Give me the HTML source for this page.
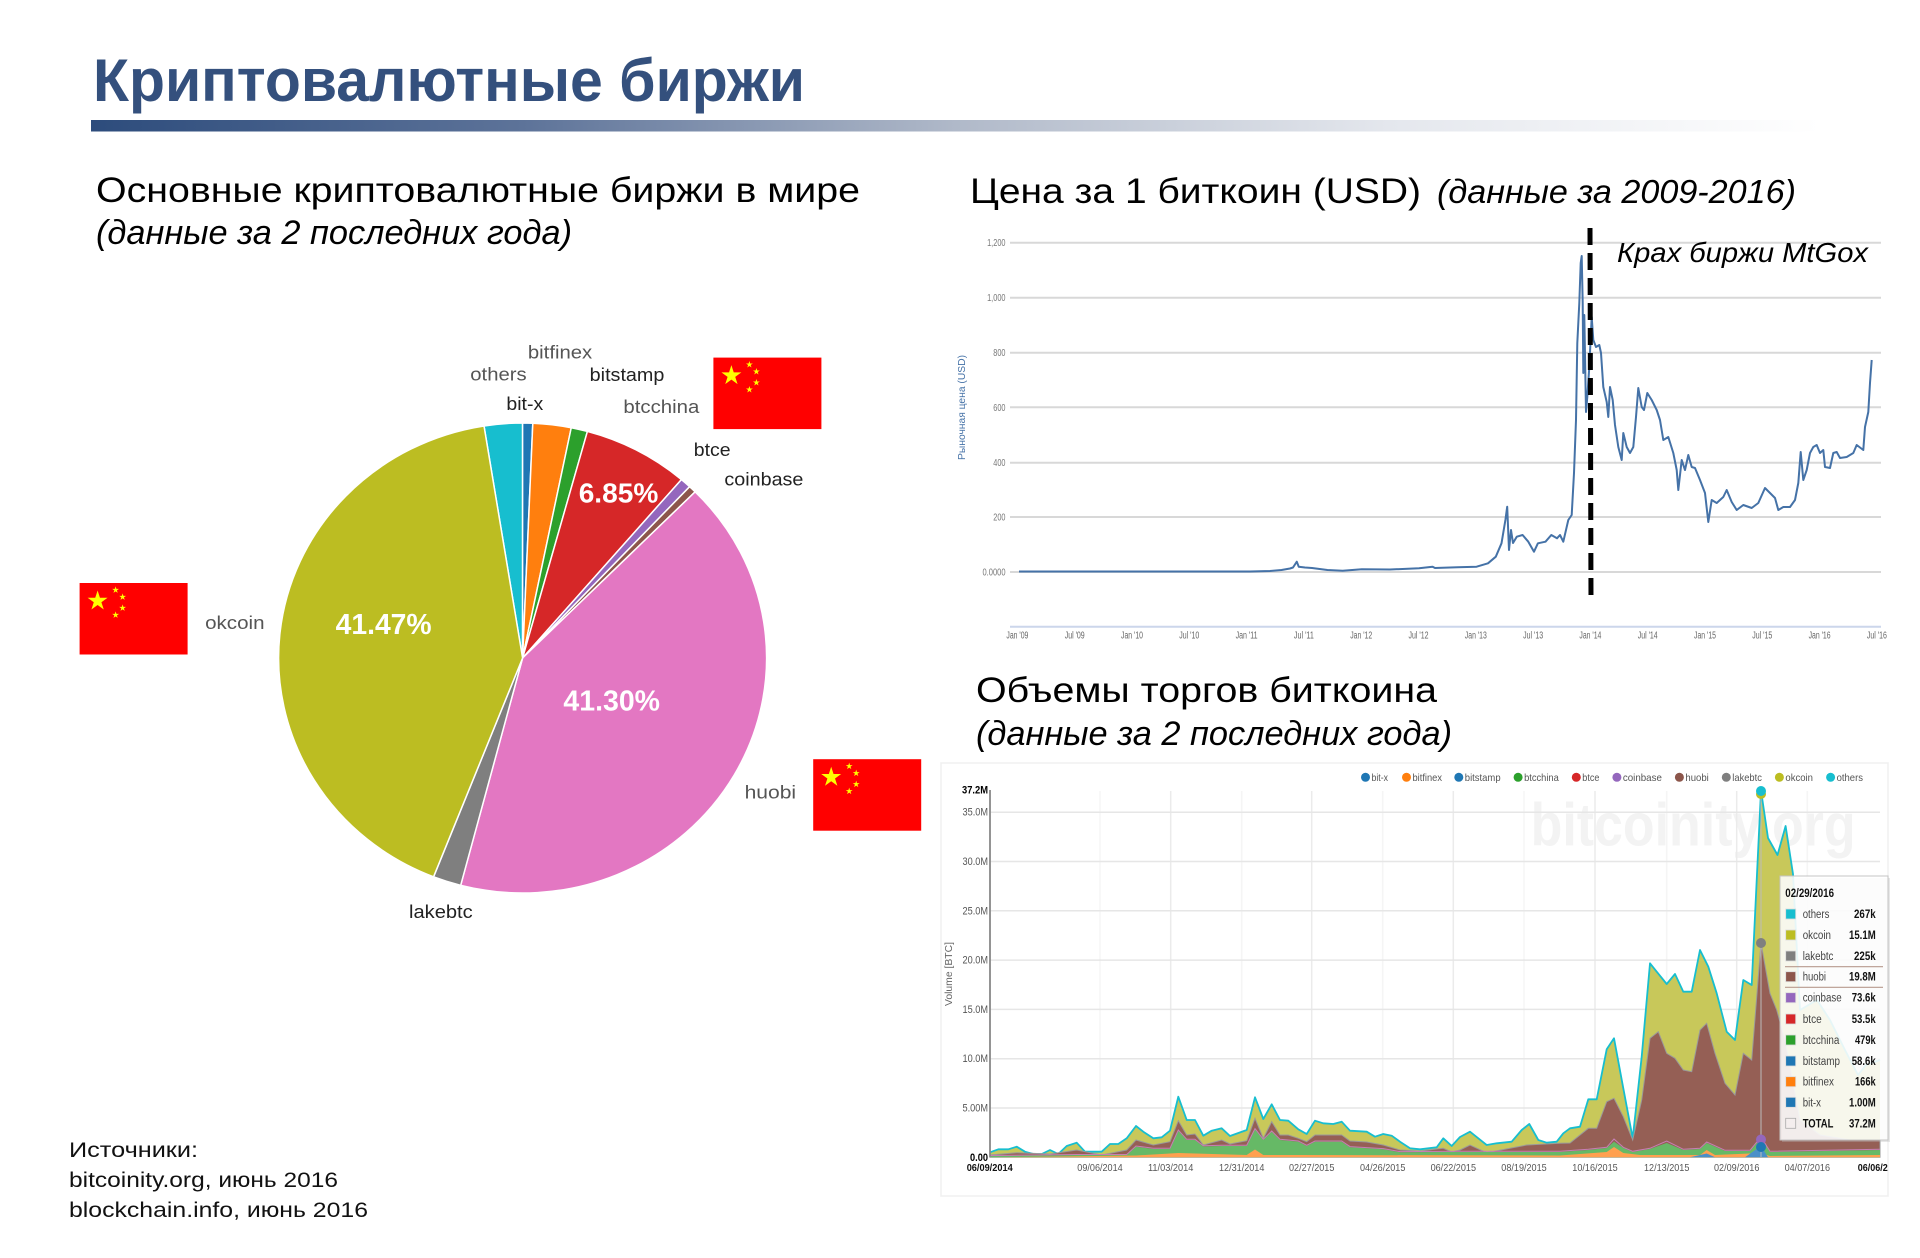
<!DOCTYPE html>
<html><head><meta charset="utf-8"><style>
html,body{margin:0;padding:0;background:#fff;}
svg{display:block;}
text{font-family:"Liberation Sans","DejaVu Sans",sans-serif;}
</style></head><body>
<svg width="1920" height="1258" viewBox="0 0 1920 1258" xmlns="http://www.w3.org/2000/svg">
<defs>
<linearGradient id="bar" x1="91" y1="0" x2="1820" y2="0" gradientUnits="userSpaceOnUse">
<stop offset="0" stop-color="#2d4c7c"/><stop offset="0.25" stop-color="#5d7399"/><stop offset="0.5" stop-color="#b0b9c9"/><stop offset="0.75" stop-color="#e4e7ed"/><stop offset="1" stop-color="#ffffff"/>
</linearGradient>
<polygon id="st" points="0,-1 0.2245,-0.309 0.951,-0.309 0.363,0.118 0.588,0.809 0,0.382 -0.588,0.809 -0.363,0.118 -0.951,-0.309 -0.2245,-0.309" fill="#ffff00"/>
<g id="flag">
<rect x="0" y="0" width="108" height="71.5" fill="#ff0000"/>
<use href="#st" transform="translate(18,18) scale(10.5)"/>
<use href="#st" transform="translate(36,7) scale(3.6)"/>
<use href="#st" transform="translate(43,14) scale(3.6)"/>
<use href="#st" transform="translate(43,25) scale(3.6)"/>
<use href="#st" transform="translate(36,32) scale(3.6)"/>
</g>
</defs>
<rect width="1920" height="1258" fill="#fff"/>

<!-- Title -->
<text x="93" y="101" font-size="60" font-weight="bold" fill="#34507d" textLength="712" lengthAdjust="spacingAndGlyphs">Криптовалютные биржи</text>
<rect x="91" y="120" width="1740" height="11.5" fill="url(#bar)"/>

<!-- Left subtitle -->
<text x="96" y="202" font-size="35" fill="#000" textLength="764" lengthAdjust="spacingAndGlyphs">Основные криптовалютные биржи в мире</text>
<text x="96" y="244" font-size="34" font-style="italic" fill="#000" textLength="476" lengthAdjust="spacingAndGlyphs">(данные за 2 последних года)</text>

<!-- Pie -->
<g stroke="#fff" stroke-width="1.5" stroke-linejoin="round">
<path d="M522.6,658 L484.01,425.96 A244,235 0 0 1 522.6,423 Z" fill="#17becf"/>
<path d="M522.6,658 L522.6,423 A244,235 0 0 1 532.8,423.2 Z" fill="#1f77b4"/>
<path d="M522.6,658 L532.8,423.2 A244,235 0 0 1 571.25,427.72 Z" fill="#ff7f0e"/>
<path d="M522.6,658 L571.25,427.72 A244,235 0 0 1 587.4,431.44 Z" fill="#2ca02c"/>
<path d="M522.6,658 L587.4,431.44 A244,235 0 0 1 681.39,479.57 Z" fill="#d62728"/>
<path d="M522.6,658 L681.39,479.57 A244,235 0 0 1 689.63,486.69 Z" fill="#9467bd"/>
<path d="M522.6,658 L689.63,486.69 A244,235 0 0 1 695.13,491.83 Z" fill="#8c564b"/>
<path d="M522.6,658 L695.13,491.83 A244,235 0 0 1 460.68,885.31 Z" fill="#e377c2"/>
<path d="M522.6,658 L460.68,885.31 A244,235 0 0 1 433.57,876.8 Z" fill="#7f7f7f"/>
<path d="M522.6,658 L433.57,876.8 A244,235 0 0 1 484.01,425.96 Z" fill="#bcbd22"/>
</g>
<g font-weight="bold" fill="#fff" font-size="29">
<text x="335.6" y="634" textLength="96" lengthAdjust="spacingAndGlyphs">41.47%</text>
<text x="563.4" y="710.6" textLength="96.6" lengthAdjust="spacingAndGlyphs">41.30%</text>
<text x="578.7" y="502.4" font-size="28" textLength="79.6" lengthAdjust="spacingAndGlyphs">6.85%</text>
</g>
<g font-size="18">
<text x="527.9" y="358.5" fill="#555" textLength="64.3" lengthAdjust="spacingAndGlyphs">bitfinex</text>
<text x="470.3" y="380.4" fill="#555" textLength="56.3" lengthAdjust="spacingAndGlyphs">others</text>
<text x="589.7" y="381" fill="#222" textLength="74.7" lengthAdjust="spacingAndGlyphs">bitstamp</text>
<text x="506.4" y="409.8" fill="#222" textLength="36.8" lengthAdjust="spacingAndGlyphs">bit-x</text>
<text x="623.4" y="413" fill="#555" textLength="75.9" lengthAdjust="spacingAndGlyphs">btcchina</text>
<text x="693.8" y="456" fill="#222" textLength="36.8" lengthAdjust="spacingAndGlyphs">btce</text>
<text x="724.4" y="485.3" fill="#222" textLength="79" lengthAdjust="spacingAndGlyphs">coinbase</text>
<text x="205.1" y="629" fill="#555" textLength="59.4" lengthAdjust="spacingAndGlyphs">okcoin</text>
<text x="744.6" y="798.4" fill="#555" textLength="51.5" lengthAdjust="spacingAndGlyphs">huobi</text>
<text x="409" y="918" fill="#222" textLength="63.7" lengthAdjust="spacingAndGlyphs">lakebtc</text>
</g>
<use href="#flag" transform="translate(713.4,357.6)"/>
<use href="#flag" transform="translate(79.6,583)"/>
<use href="#flag" transform="translate(813.2,759.2)"/>

<!-- Sources -->
<g font-size="21" fill="#111">
<text x="69" y="1157" textLength="129" lengthAdjust="spacingAndGlyphs">Источники:</text>
<text x="69" y="1187" textLength="269" lengthAdjust="spacingAndGlyphs">bitcoinity.org, июнь 2016</text>
<text x="69" y="1217" textLength="299" lengthAdjust="spacingAndGlyphs">blockchain.info, июнь 2016</text>
</g>

<!-- Price chart -->
<text x="970" y="203" font-size="35" fill="#000" textLength="451" lengthAdjust="spacingAndGlyphs">Цена за 1 биткоин (USD)</text>
<text x="1437" y="203" font-size="33" font-style="italic" fill="#000" textLength="359" lengthAdjust="spacingAndGlyphs">(данные за 2009-2016)</text>
<g stroke="#d8d8d8" stroke-width="2">
<line x1="1010" y1="242.7" x2="1881" y2="242.7"/>
<line x1="1010" y1="297.7" x2="1881" y2="297.7"/>
<line x1="1010" y1="352.7" x2="1881" y2="352.7"/>
<line x1="1010" y1="407.3" x2="1881" y2="407.3"/>
<line x1="1010" y1="462.7" x2="1881" y2="462.7"/>
<line x1="1010" y1="517" x2="1881" y2="517"/>
<line x1="1010" y1="572" x2="1881" y2="572"/>
</g>
<line x1="1010" y1="626.7" x2="1881" y2="626.7" stroke="#ccd6eb" stroke-width="2"/>
<g font-size="10" fill="#777" text-anchor="end">
<text x="1005.5" y="246.2" textLength="18.4" lengthAdjust="spacingAndGlyphs">1,200</text>
<text x="1005.5" y="301.2" textLength="18.4" lengthAdjust="spacingAndGlyphs">1,000</text>
<text x="1005.5" y="356.2" textLength="12.2" lengthAdjust="spacingAndGlyphs">800</text>
<text x="1005.5" y="410.8" textLength="12.2" lengthAdjust="spacingAndGlyphs">600</text>
<text x="1005.5" y="466.2" textLength="12.2" lengthAdjust="spacingAndGlyphs">400</text>
<text x="1005.5" y="520.5" textLength="12.2" lengthAdjust="spacingAndGlyphs">200</text>
<text x="1005.5" y="575.5" textLength="23" lengthAdjust="spacingAndGlyphs">0.0000</text>
</g>
<text transform="translate(965,407.5) rotate(-90)" font-size="10" fill="#4572a7" text-anchor="middle" textLength="105" lengthAdjust="spacingAndGlyphs">Рыночная цена (USD)</text>
<g font-size="10" fill="#666" text-anchor="middle">
<text x="1017.4" y="638.3" textLength="22" lengthAdjust="spacingAndGlyphs">Jan '09</text>
<text x="1074.7" y="638.3" textLength="20" lengthAdjust="spacingAndGlyphs">Jul '09</text>
<text x="1132" y="638.3" textLength="22" lengthAdjust="spacingAndGlyphs">Jan '10</text>
<text x="1189.3" y="638.3" textLength="20" lengthAdjust="spacingAndGlyphs">Jul '10</text>
<text x="1246.6" y="638.3" textLength="22" lengthAdjust="spacingAndGlyphs">Jan '11</text>
<text x="1303.9" y="638.3" textLength="20" lengthAdjust="spacingAndGlyphs">Jul '11</text>
<text x="1361.2" y="638.3" textLength="22" lengthAdjust="spacingAndGlyphs">Jan '12</text>
<text x="1418.5" y="638.3" textLength="20" lengthAdjust="spacingAndGlyphs">Jul '12</text>
<text x="1475.8" y="638.3" textLength="22" lengthAdjust="spacingAndGlyphs">Jan '13</text>
<text x="1533.1" y="638.3" textLength="20" lengthAdjust="spacingAndGlyphs">Jul '13</text>
<text x="1590.4" y="638.3" textLength="22" lengthAdjust="spacingAndGlyphs">Jan '14</text>
<text x="1647.7" y="638.3" textLength="20" lengthAdjust="spacingAndGlyphs">Jul '14</text>
<text x="1705" y="638.3" textLength="22" lengthAdjust="spacingAndGlyphs">Jan '15</text>
<text x="1762.3" y="638.3" textLength="20" lengthAdjust="spacingAndGlyphs">Jul '15</text>
<text x="1819.6" y="638.3" textLength="22" lengthAdjust="spacingAndGlyphs">Jan '16</text>
<text x="1876.9" y="638.3" textLength="20" lengthAdjust="spacingAndGlyphs">Jul '16</text>
</g>
<polyline fill="none" stroke="#4572a7" stroke-width="2" stroke-linejoin="round" points="1019,571.5 1250,571.5 1270,571 1281.5,570 1290,568.5 1293,567.5 1296.8,561.7 1298.7,566.7 1305,567.5 1312,568 1327.4,570 1342.7,570.7 1361.8,569.3 1390,569.5 1419,568.3 1432.6,566.7 1435,568 1457.5,567.3 1476.6,566.7 1488,563.3 1495.8,556.7 1501.5,543.3 1505.4,520 1507.2,506.7 1509,550 1511,530 1513,543 1516.8,536.7 1522.6,535 1528.3,541.7 1534,551.7 1537.9,543.3 1545.5,541.7 1551.3,535 1557,538.3 1560,535 1563.3,541.7 1568.3,520 1571.7,515 1574,473 1576,420 1577.3,343 1579.3,303 1580.7,263 1581.7,256 1582.7,303 1583.3,373 1584.3,315 1586,412 1587.3,397 1589.3,367 1591.7,317 1593.3,340 1596,347 1599.3,345 1601,353 1603.3,387 1606.7,402 1608.3,417 1610,387 1612.7,400 1615,425 1618.3,447 1621.7,460 1623.3,433 1626.7,447 1630,453 1633.3,447 1636,417 1638.3,388 1641.7,407 1644,410 1647.3,393 1651.7,400 1656.7,410 1660,420 1663.3,440 1668.3,437 1673.3,453 1676.7,470 1678.3,490 1681.7,460 1685,470 1688.3,455 1691.7,467 1695,468 1700,480 1705,493 1708.3,522 1711.7,500 1716.7,503 1723.3,497 1726.7,490 1731.7,502 1736.7,510 1743.3,505 1751.7,508 1758.3,503 1765,488 1770,493 1775,498 1778.3,510 1783.3,507 1790,507 1795,500 1798.3,483 1800.7,452 1803.3,480 1806.7,470 1810,453 1813.3,447 1816.7,445 1820,453 1823.3,450 1825,467 1830,468 1833.3,453 1836.7,452 1840,458 1846.7,457 1853.3,453 1856.7,445 1863.3,450 1865,427 1868.3,412 1870,383 1871.7,360"/>
<line x1="1590" y1="228" x2="1591" y2="603" stroke="#000" stroke-width="5" stroke-dasharray="17 8"/>
<text x="1617" y="262" font-size="28" font-style="italic" fill="#000" textLength="251" lengthAdjust="spacingAndGlyphs">Крах биржи MtGox</text>

<!-- Volume chart -->
<text x="976" y="702" font-size="35" fill="#000" textLength="461" lengthAdjust="spacingAndGlyphs">Объемы торгов биткоина</text>
<text x="976" y="745" font-size="34" font-style="italic" fill="#000" textLength="476" lengthAdjust="spacingAndGlyphs">(данные за 2 последних года)</text>
<rect x="941" y="763" width="947" height="433" fill="none" stroke="#f0f0f0" stroke-width="1.5"/>
<text x="1530.6" y="845.7" font-size="60" font-weight="bold" fill="#f3f3f3" textLength="325" lengthAdjust="spacingAndGlyphs">bitcoinity.org</text>
<g stroke-width="1.5">
<line x1="1100" y1="791" x2="1100" y2="1157" stroke="#f5f5f5"/>
<line x1="1170.7" y1="791" x2="1170.7" y2="1157" stroke="#ebebeb"/>
<line x1="1241.7" y1="791" x2="1241.7" y2="1157" stroke="#f5f5f5"/>
<line x1="1311.7" y1="791" x2="1311.7" y2="1157" stroke="#ebebeb"/>
<line x1="1382.7" y1="791" x2="1382.7" y2="1157" stroke="#f5f5f5"/>
<line x1="1453.3" y1="791" x2="1453.3" y2="1157" stroke="#ebebeb"/>
<line x1="1524" y1="791" x2="1524" y2="1157" stroke="#f5f5f5"/>
<line x1="1595" y1="791" x2="1595" y2="1157" stroke="#ebebeb"/>
<line x1="1666.7" y1="791" x2="1666.7" y2="1157" stroke="#f5f5f5"/>
<line x1="1736.7" y1="791" x2="1736.7" y2="1157" stroke="#ebebeb"/>
<line x1="1807.3" y1="791" x2="1807.3" y2="1157" stroke="#f5f5f5"/>
</g>
<g stroke="#e6e6e6" stroke-width="1.5">
<line x1="990" y1="812.2" x2="1880" y2="812.2"/>
<line x1="990" y1="861.5" x2="1880" y2="861.5"/>
<line x1="990" y1="910.8" x2="1880" y2="910.8"/>
<line x1="990" y1="960.1" x2="1880" y2="960.1"/>
<line x1="990" y1="1009.4" x2="1880" y2="1009.4"/>
<line x1="990" y1="1058.7" x2="1880" y2="1058.7"/>
<line x1="990" y1="1108" x2="1880" y2="1108"/>
</g>
<!-- okcoin / total -->
<polygon fill="#c8c85a" points="990,1157.3 990,1152 991.7,1151.7 998.3,1149.3 1008.3,1149.3 1016.7,1146.7 1025,1151.7 1033.3,1154 1041.7,1154 1050,1150 1058.3,1154 1066.7,1146 1076.7,1142.7 1085,1151.7 1101.7,1151.7 1110,1144 1118.3,1144 1126.7,1138.3 1136,1126 1143.3,1131.7 1153.3,1138.3 1161.7,1137.3 1170,1130.7 1178.3,1096.7 1186.7,1120 1195,1120 1203.3,1135.7 1211.7,1130.7 1221.7,1128.3 1230,1136 1246.7,1130 1255,1097.3 1263.3,1119 1271.7,1104.3 1280,1120 1288.3,1120.7 1298.3,1129.3 1306.7,1134 1315,1120.7 1323.3,1123.3 1333.3,1124 1341.7,1121.7 1350,1130.7 1366.7,1131.7 1375,1136.7 1383.3,1134 1391.7,1135.7 1400,1141.7 1410,1148.3 1420,1149.3 1436.7,1147.3 1443.3,1138.3 1451.7,1146 1460,1137 1470,1131.7 1486.7,1145 1496.7,1143.3 1511.7,1141.7 1521.7,1130 1529.3,1124 1538.3,1140 1546.7,1142.7 1556.7,1141.7 1563.3,1133.3 1570,1128.3 1580,1126.7 1588.3,1099.3 1596.7,1099.3 1606.7,1049.3 1614,1038.3 1623.3,1088.3 1632.7,1138.3 1641.7,1056.7 1650,963.3 1656.7,971.7 1666.7,984 1675,974 1683.3,991.7 1691.7,991.7 1700,950 1708.3,966.7 1716.7,993.3 1726.7,1031.7 1735,1040 1743.3,980 1751.7,985 1761,790.5 1768,838 1777.5,855 1785.6,826 1793,874 1800,1010 1817,1000 1830,1020 1845,1050 1858,1075 1866,1065 1880,1060 1880,1157.3"/>
<polyline fill="none" stroke="#17becf" stroke-width="1.8" stroke-linejoin="round" points="990,1152 991.7,1151.7 998.3,1149.3 1008.3,1149.3 1016.7,1146.7 1025,1151.7 1033.3,1154 1041.7,1154 1050,1150 1058.3,1154 1066.7,1146 1076.7,1142.7 1085,1151.7 1101.7,1151.7 1110,1144 1118.3,1144 1126.7,1138.3 1136,1126 1143.3,1131.7 1153.3,1138.3 1161.7,1137.3 1170,1130.7 1178.3,1096.7 1186.7,1120 1195,1120 1203.3,1135.7 1211.7,1130.7 1221.7,1128.3 1230,1136 1246.7,1130 1255,1097.3 1263.3,1119 1271.7,1104.3 1280,1120 1288.3,1120.7 1298.3,1129.3 1306.7,1134 1315,1120.7 1323.3,1123.3 1333.3,1124 1341.7,1121.7 1350,1130.7 1366.7,1131.7 1375,1136.7 1383.3,1134 1391.7,1135.7 1400,1141.7 1410,1148.3 1420,1149.3 1436.7,1147.3 1443.3,1138.3 1451.7,1146 1460,1137 1470,1131.7 1486.7,1145 1496.7,1143.3 1511.7,1141.7 1521.7,1130 1529.3,1124 1538.3,1140 1546.7,1142.7 1556.7,1141.7 1563.3,1133.3 1570,1128.3 1580,1126.7 1588.3,1099.3 1596.7,1099.3 1606.7,1049.3 1614,1038.3 1623.3,1088.3 1632.7,1138.3 1641.7,1056.7 1650,963.3 1656.7,971.7 1666.7,984 1675,974 1683.3,991.7 1691.7,991.7 1700,950 1708.3,966.7 1716.7,993.3 1726.7,1031.7 1735,1040 1743.3,980 1751.7,985 1761,790.5 1768,838 1777.5,855 1785.6,826 1793,874 1800,1010 1817,1000 1830,1020 1845,1050 1858,1075 1866,1065 1880,1060"/>
<!-- huobi -->
<polygon fill="#955f55" stroke="#9a9a9a" stroke-width="1" points="990,1157.3 990,1155 1016.7,1152.7 1050,1154 1076.7,1150 1101.7,1155 1126.7,1150 1136,1140 1153.3,1145 1170,1141.7 1178.3,1120.7 1186.7,1135 1195,1134 1203.3,1145 1221.7,1140 1230,1144 1246.7,1140.7 1255,1118.3 1263.3,1138.3 1271.7,1121.7 1280,1135 1288.3,1135 1298.3,1138.3 1306.7,1141.7 1315,1135 1341.7,1135 1350,1141 1366.7,1142 1383.3,1145 1400,1150 1420,1151 1443.3,1148.3 1451.7,1152 1460,1150 1470,1145 1486.7,1152.7 1526.7,1145 1560,1143.3 1570,1143 1588.3,1128.3 1596.7,1128.3 1606.7,1101.7 1614,1098.3 1623.3,1116.7 1632.7,1140 1641.7,1100 1650,1038.3 1658.3,1031.7 1666.7,1053.3 1675,1058.3 1683.3,1070 1691.7,1071.7 1700,1030 1706.7,1023.3 1715,1053.3 1725,1083.3 1735,1095 1743.3,1053.3 1751.7,1060 1761,943 1770,993.3 1776.7,1010 1785,1040 1800,1120 1820,1135 1850,1140 1880,1140 1880,1157.3"/>
<!-- btcchina -->
<polygon fill="#66b966" points="990,1157.3 990,1156 1076.7,1155 1126.7,1155 1136,1146.7 1153.3,1149 1170,1149 1178.3,1130.7 1186.7,1140 1195,1140 1203.3,1146.5 1221.7,1146 1246.7,1146 1255,1129.3 1263.3,1140 1271.7,1131.7 1280,1140 1298.3,1141.7 1306.7,1146 1315,1141.7 1341.7,1141.7 1350,1147.3 1383.3,1149.3 1400,1152.3 1443.3,1152 1460,1152 1560,1152 1588.3,1150 1606.7,1148 1614,1141.7 1623.3,1148 1632.7,1152 1650,1149 1666.7,1143 1683.3,1150 1700,1149 1706.7,1143 1725,1151 1750,1151 1761,1138 1770,1152 1880,1150 1880,1157.3"/>
<polyline fill="none" stroke="#c77fb5" stroke-width="1" points="990,1155.5 1076.7,1154.5 1126.7,1154.5 1136,1146 1153.3,1148.3 1170,1148.3 1178.3,1130 1186.7,1139.3 1195,1139.3 1203.3,1145.8 1221.7,1145.3 1246.7,1145.3 1255,1128.6 1263.3,1139.3 1271.7,1131 1280,1139.3 1298.3,1141 1306.7,1145.3 1315,1141 1341.7,1141 1350,1146.6 1383.3,1148.6 1400,1151.6 1460,1151.3 1560,1151.3 1588.3,1149.3 1606.7,1147.3 1614,1139 1623.3,1147.3 1632.7,1151.3 1650,1148.3 1666.7,1141 1683.3,1149.3 1700,1148.3 1706.7,1142 1725,1150.3 1750,1150.3 1761,1137 1770,1151.3 1880,1149.3"/>
<!-- bitfinex -->
<polygon fill="#ffa04f" points="990,1157.3 1136,1155.5 1178.3,1153 1246.7,1155 1255,1149.5 1263.3,1155 1300,1155 1560,1155.5 1606.7,1152 1614,1147 1623.3,1153 1640,1155 1700,1155 1706.7,1150 1715,1155 1761,1153 1770,1156 1880,1155 1880,1157.3"/>
<!-- bit-x -->
<polygon fill="#4a90c8" points="1690,1157.3 1706.7,1153.5 1715,1157.3 1745,1157.3 1761,1146 1768,1157.3"/>
<line x1="990" y1="790" x2="990" y2="1157.3" stroke="#888" stroke-width="1.8"/>

<!-- Volume axis labels -->
<g font-size="11" fill="#555" text-anchor="end">
<text x="988" y="793.5" fill="#000" font-weight="bold" textLength="26" lengthAdjust="spacingAndGlyphs">37.2M</text>
<text x="988" y="815.7" textLength="25.5" lengthAdjust="spacingAndGlyphs">35.0M</text>
<text x="988" y="865" textLength="25.5" lengthAdjust="spacingAndGlyphs">30.0M</text>
<text x="988" y="914.3" textLength="25.5" lengthAdjust="spacingAndGlyphs">25.0M</text>
<text x="988" y="963.6" textLength="25.5" lengthAdjust="spacingAndGlyphs">20.0M</text>
<text x="988" y="1012.9" textLength="25.5" lengthAdjust="spacingAndGlyphs">15.0M</text>
<text x="988" y="1062.2" textLength="25.5" lengthAdjust="spacingAndGlyphs">10.0M</text>
<text x="988" y="1111.5" textLength="25.5" lengthAdjust="spacingAndGlyphs">5.00M</text>
<text x="988" y="1161" fill="#000" font-weight="bold" textLength="18" lengthAdjust="spacingAndGlyphs">0.00</text>
</g>
<text transform="translate(952,974) rotate(-90)" font-size="10" fill="#666" text-anchor="middle" textLength="64" lengthAdjust="spacingAndGlyphs">Volume [BTC]</text>
<g font-size="10.5" fill="#555" text-anchor="middle">
<text x="989.7" y="1171" fill="#111" font-weight="bold" textLength="46" lengthAdjust="spacingAndGlyphs">06/09/2014</text>
<text x="1100" y="1171" textLength="45.4" lengthAdjust="spacingAndGlyphs">09/06/2014</text>
<text x="1170.7" y="1171" textLength="45.4" lengthAdjust="spacingAndGlyphs">11/03/2014</text>
<text x="1241.7" y="1171" textLength="45.4" lengthAdjust="spacingAndGlyphs">12/31/2014</text>
<text x="1311.7" y="1171" textLength="45.4" lengthAdjust="spacingAndGlyphs">02/27/2015</text>
<text x="1382.7" y="1171" textLength="45.4" lengthAdjust="spacingAndGlyphs">04/26/2015</text>
<text x="1453.3" y="1171" textLength="45.4" lengthAdjust="spacingAndGlyphs">06/22/2015</text>
<text x="1524" y="1171" textLength="45.4" lengthAdjust="spacingAndGlyphs">08/19/2015</text>
<text x="1595" y="1171" textLength="45.4" lengthAdjust="spacingAndGlyphs">10/16/2015</text>
<text x="1666.7" y="1171" textLength="45.4" lengthAdjust="spacingAndGlyphs">12/13/2015</text>
<text x="1736.7" y="1171" textLength="45.4" lengthAdjust="spacingAndGlyphs">02/09/2016</text>
<text x="1807.3" y="1171" textLength="45.4" lengthAdjust="spacingAndGlyphs">04/07/2016</text>
<text x="1872.8" y="1171" fill="#111" font-weight="bold" textLength="30" lengthAdjust="spacingAndGlyphs">06/06/2</text>
</g>

<!-- legend -->
<g font-size="10.5" fill="#555">
<circle cx="1365.5" cy="777.3" r="4.5" fill="#1f77b4"/><text x="1371.5" y="781" textLength="16.5" lengthAdjust="spacingAndGlyphs">bit-x</text>
<circle cx="1406.5" cy="777.3" r="4.5" fill="#ff7f0e"/><text x="1412.5" y="781" textLength="29.5" lengthAdjust="spacingAndGlyphs">bitfinex</text>
<circle cx="1458.8" cy="777.3" r="4.5" fill="#1f77b4"/><text x="1464.8" y="781" textLength="35.8" lengthAdjust="spacingAndGlyphs">bitstamp</text>
<circle cx="1518.1" cy="777.3" r="4.5" fill="#2ca02c"/><text x="1524.1" y="781" textLength="34.7" lengthAdjust="spacingAndGlyphs">btcchina</text>
<circle cx="1576.3" cy="777.3" r="4.5" fill="#d62728"/><text x="1582.3" y="781" textLength="17.1" lengthAdjust="spacingAndGlyphs">btce</text>
<circle cx="1616.9" cy="777.3" r="4.5" fill="#9467bd"/><text x="1622.9" y="781" textLength="39" lengthAdjust="spacingAndGlyphs">coinbase</text>
<circle cx="1679.4" cy="777.3" r="4.5" fill="#8c564b"/><text x="1685.4" y="781" textLength="23.4" lengthAdjust="spacingAndGlyphs">huobi</text>
<circle cx="1726.3" cy="777.3" r="4.5" fill="#7f7f7f"/><text x="1732.3" y="781" textLength="29.6" lengthAdjust="spacingAndGlyphs">lakebtc</text>
<circle cx="1779.4" cy="777.3" r="4.5" fill="#bcbd22"/><text x="1785.4" y="781" textLength="27.6" lengthAdjust="spacingAndGlyphs">okcoin</text>
<circle cx="1830.6" cy="777.3" r="4.5" fill="#17becf"/><text x="1836.6" y="781" textLength="26.4" lengthAdjust="spacingAndGlyphs">others</text>
</g>

<!-- hover -->
<line x1="1761" y1="791" x2="1761" y2="1157" stroke="#bbb" stroke-width="1"/>
<circle cx="1761" cy="794" r="5" fill="#bcbd22"/>
<circle cx="1761" cy="791" r="5" fill="#17becf"/>
<circle cx="1761" cy="943" r="5" fill="#7f7f7f"/>
<circle cx="1761" cy="1139.5" r="5" fill="#9467bd"/>
<circle cx="1761" cy="1147" r="5" fill="#1f77b4"/>

<!-- tooltip -->
<rect x="1782" y="878" width="108" height="264" fill="#bbb" opacity="0.35"/>
<rect x="1780" y="876" width="108" height="264" fill="#fff" fill-opacity="0.86" stroke="#c4c4c4" stroke-width="1"/>
<text x="1785.3" y="897" font-size="11.5" font-weight="bold" fill="#111" textLength="48.7" lengthAdjust="spacingAndGlyphs">02/29/2016</text>
<line x1="1785" y1="966.7" x2="1883" y2="966.7" stroke="#b89a8e" stroke-width="1.2"/>
<line x1="1785" y1="987.3" x2="1883" y2="987.3" stroke="#b89a8e" stroke-width="1.2"/>
<g stroke="#ddd" stroke-width="0.8">
<rect x="1785.7" y="909" width="10" height="10" fill="#17becf"/>
<rect x="1785.7" y="930" width="10" height="10" fill="#bcbd22"/>
<rect x="1785.7" y="951" width="10" height="10" fill="#7f7f7f"/>
<rect x="1785.7" y="971.7" width="10" height="10" fill="#8c564b"/>
<rect x="1785.7" y="992.7" width="10" height="10" fill="#9467bd"/>
<rect x="1785.7" y="1014" width="10" height="10" fill="#d62728"/>
<rect x="1785.7" y="1035" width="10" height="10" fill="#2ca02c"/>
<rect x="1785.7" y="1056" width="10" height="10" fill="#1f77b4"/>
<rect x="1785.7" y="1076.7" width="10" height="10" fill="#ff7f0e"/>
<rect x="1785.7" y="1097.3" width="10" height="10" fill="#1f77b4"/>
<rect x="1785.7" y="1118.3" width="10" height="10" fill="#f4eeee" stroke="#aaa"/>
</g>
<g font-size="11.5" fill="#444">
<text x="1802.7" y="918" textLength="26.7" lengthAdjust="spacingAndGlyphs">others</text>
<text x="1802.7" y="939" textLength="28.3" lengthAdjust="spacingAndGlyphs">okcoin</text>
<text x="1802.7" y="960" textLength="30.7" lengthAdjust="spacingAndGlyphs">lakebtc</text>
<text x="1802.7" y="980.7" textLength="23.3" lengthAdjust="spacingAndGlyphs">huobi</text>
<text x="1802.7" y="1001.7" textLength="39" lengthAdjust="spacingAndGlyphs">coinbase</text>
<text x="1802.7" y="1023" textLength="19" lengthAdjust="spacingAndGlyphs">btce</text>
<text x="1802.7" y="1044" textLength="36.7" lengthAdjust="spacingAndGlyphs">btcchina</text>
<text x="1802.7" y="1065" textLength="37.3" lengthAdjust="spacingAndGlyphs">bitstamp</text>
<text x="1802.7" y="1085.7" textLength="31.3" lengthAdjust="spacingAndGlyphs">bitfinex</text>
<text x="1802.7" y="1106.3" textLength="18.3" lengthAdjust="spacingAndGlyphs">bit-x</text>
<text x="1802.7" y="1127.3" fill="#111" font-weight="bold" textLength="30.7" lengthAdjust="spacingAndGlyphs">TOTAL</text>
</g>
<g font-size="11.5" fill="#111" font-weight="bold" text-anchor="end">
<text x="1875.7" y="918" textLength="21.7" lengthAdjust="spacingAndGlyphs">267k</text>
<text x="1875.7" y="939" textLength="26.7" lengthAdjust="spacingAndGlyphs">15.1M</text>
<text x="1875.7" y="960" textLength="21.7" lengthAdjust="spacingAndGlyphs">225k</text>
<text x="1875.7" y="980.7" textLength="26.7" lengthAdjust="spacingAndGlyphs">19.8M</text>
<text x="1875.7" y="1001.7" textLength="24" lengthAdjust="spacingAndGlyphs">73.6k</text>
<text x="1875.7" y="1023" textLength="24" lengthAdjust="spacingAndGlyphs">53.5k</text>
<text x="1875.7" y="1044" textLength="20.7" lengthAdjust="spacingAndGlyphs">479k</text>
<text x="1875.7" y="1065" textLength="24" lengthAdjust="spacingAndGlyphs">58.6k</text>
<text x="1875.7" y="1085.7" textLength="20.7" lengthAdjust="spacingAndGlyphs">166k</text>
<text x="1875.7" y="1106.3" textLength="26.7" lengthAdjust="spacingAndGlyphs">1.00M</text>
<text x="1875.7" y="1127.3" textLength="26.7" lengthAdjust="spacingAndGlyphs">37.2M</text>
</g>
</svg>
</body></html>
